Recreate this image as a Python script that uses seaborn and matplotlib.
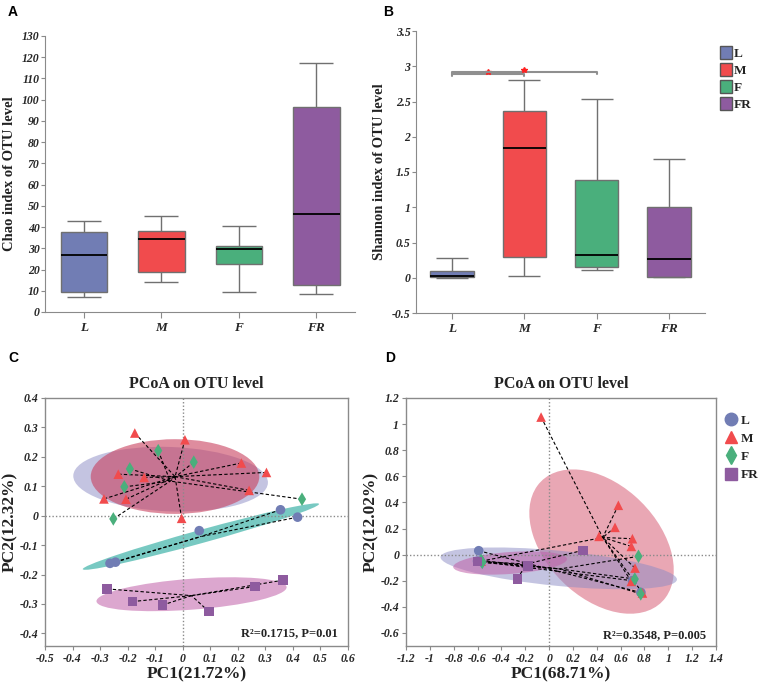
import numpy as np
import pandas as pd
import matplotlib
matplotlib.use('Agg')
import matplotlib.pyplot as plt
import seaborn as sns
from matplotlib.patches import Ellipse, Patch
from matplotlib.lines import Line2D
from matplotlib.ticker import MultipleLocator, FuncFormatter

# ---- data ----
groups = ['L', 'M', 'F', 'FR']
colors = ['#717db4', '#f14b4d', '#4aaf7c', '#8e5b9f']

# box panels: min, q1, median, q3, max per group
chao_L = [7, 9.5, 27, 37.5, 43]
chao_M = [14, 19, 34.5, 38, 45]
chao_F = [9.5, 22.5, 29.5, 31, 40.5]
chao_FR = [8.5, 12.5, 46, 96.5, 117.5]

shannon_L = [0.0, 0.01, 0.02, 0.1, 0.28]
shannon_M = [0.03, 0.3, 1.84, 2.36, 2.8]
shannon_F = [0.11, 0.15, 0.32, 1.38, 2.54]
shannon_FR = [0.01, 0.01, 0.26, 1.0, 1.69]

sig_pairs = [(0, 1), (0, 2)]
sig_heights = [2.895, 2.925]

# PCoA C (points per group: L 5, M 10, F 6, FR 6)
c_pc1 = [-0.264, -0.244, 0.060, 0.355, 0.417,
         -0.174, 0.008, 0.213, 0.304, 0.241, -0.234, -0.140, -0.286, -0.206, -0.004,
         -0.089, -0.192, 0.040, -0.212, 0.433, -0.252,
         -0.274, -0.183, -0.074, 0.095, 0.262, 0.365]
c_pc2 = [-0.162, -0.158, -0.051, 0.020, -0.005,
         0.281, 0.258, 0.179, 0.147, 0.086, 0.141, 0.130, 0.057, 0.056, -0.009,
         0.221, 0.159, 0.182, 0.098, 0.056, -0.011,
         -0.249, -0.292, -0.304, -0.326, -0.241, -0.219]
c_group = ['L'] * 5 + ['M'] * 10 + ['F'] * 6 + ['FR'] * 6

# PCoA D (points per group: L 4, M 10, F 6, FR 4)
d_pc1 = [-0.59, -0.60, 0.70, 0.77,
         -0.067, 0.581, 0.553, 0.419, 0.699, 0.690, 0.721, 0.690, 0.783, -0.57,
         0.750, 0.719, 0.769, -0.563, -0.56, -0.57,
         0.284, -0.176, -0.266, -0.600]
d_pc2 = [0.03, -0.05, -0.20, -0.29,
         1.054, 0.378, 0.209, 0.140, 0.122, 0.063, -0.103, -0.205, -0.294, -0.05,
         -0.013, -0.187, -0.301, -0.052, -0.06, -0.045,
         0.033, -0.085, -0.185, -0.052]
d_group = ['L'] * 4 + ['M'] * 10 + ['F'] * 6 + ['FR'] * 4

# confidence ellipses (center x, center y, width, height, angle)
c_ell_x = [-0.044, -0.028, 0.066, 0.032]
c_ell_y = [0.124, 0.133, -0.071, -0.267]
c_ell_w = [0.707, 0.612, 0.886, 0.692]
c_ell_h = [0.219, 0.254, 0.045, 0.105]
c_ell_ang = [-2, 0, 14.5, 4]

d_ell_x = [0.44, 0.081, -0.327]
d_ell_y = [0.10, -0.105, -0.064]
d_ell_w = [1.375, 1.99, 0.956]
d_ell_h = [0.894, 0.27, 0.168]
d_ell_ang = [-38.5, -5, 3.7]

c_stat = 'R²=0.1715, P=0.01'
d_stat = 'R²=0.3548, P=0.005'

# ---- style ----
sns.set_style('ticks')
plt.rcParams['font.family'] = ['Liberation Serif', 'DejaVu Serif']
plt.rcParams['font.weight'] = 'bold'
plt.rcParams['axes.labelweight'] = 'bold'
plt.rcParams['axes.titleweight'] = 'bold'
plt.rcParams['text.color'] = '#222222'
plt.rcParams['axes.labelcolor'] = '#222222'

W, H = 763, 685
fig = plt.figure(figsize=(W / 100, H / 100), dpi=100)


def add_ax(l, t, r, b):
    return fig.add_axes([l / W, 1 - b / H, (r - l) / W, (b - t) / H])


def fmt(v, pos):
    v = round(v, 6)
    return '0' if v == 0 else '%g' % v


markers = {'L': 'o', 'M': '^', 'F': 'd', 'FR': 's'}
spine_col = '#8a8a8a'
line_col = '#707070'


def box_panel(ax, values, ylabel, ylim, step, tick_fs):
    df = pd.DataFrame({'group': np.repeat(groups, 5), 'value': values})
    sns.boxplot(data=df, x='group', y='value', hue='group', order=groups,
                hue_order=groups, palette=colors, saturation=1, width=0.6,
                whis=(0, 100), linecolor=line_col, linewidth=1, legend=False,
                ax=ax, medianprops=dict(color='black', linewidth=1.3),
                capprops=dict(linewidth=0))
    # wider whisker caps, as in the original
    ext = df.groupby('group')['value'].agg(['min', 'max']).loc[groups]
    pos = np.arange(len(groups))
    for col in ['min', 'max']:
        ax.hlines(ext[col].values, pos - 0.22, pos + 0.22, color=line_col, lw=1)
    ax.set_xlim(-0.5, 3.5)
    ax.set_ylim(*ylim)
    ax.yaxis.set_major_locator(MultipleLocator(step))
    ax.yaxis.set_major_formatter(FuncFormatter(fmt))
    ax.set_xlabel('')
    ax.set_ylabel(ylabel, fontsize=10.5)
    sns.despine(ax=ax)
    for s in ['left', 'bottom']:
        ax.spines[s].set_color(spine_col)
    ax.tick_params(axis='y', length=3, color=spine_col, labelsize=tick_fs, pad=1)
    ax.tick_params(axis='x', length=4, color=spine_col, labelsize=9.5)
    plt.setp(ax.get_yticklabels(), style='italic', weight='bold')
    plt.setp(ax.get_xticklabels(), style='italic', weight='bold')


# ---- A ----
axA = add_ax(45, 36, 355, 312)
box_panel(axA, chao_L + chao_M + chao_F + chao_FR, 'Chao index of OTU level',
          (0, 130), 10, 8.5)

# ---- B ----
axB = add_ax(416, 31, 705, 313)
box_panel(axB, shannon_L + shannon_M + shannon_F + shannon_FR,
          'Shannon index of OTU level', (-0.5, 3.5), 0.5, 8.5)
for (x0, x1), h in zip(sig_pairs, sig_heights):
    axB.plot([x0, x0, x1, x1], [h - 0.04, h, h, h - 0.04], color='#8f8f8f', lw=1.5)
    axB.plot((x0 + x1) / 2, h + 0.025, marker='*', color='#ff2020', ms=4)
axB.legend(handles=[Patch(facecolor=c, edgecolor='#555555', label=g)
                    for g, c in zip(groups, colors)],
           loc='upper left', bbox_to_anchor=(1.03, 0.97), frameon=False,
           handlelength=0.9, handleheight=1.1, handletextpad=0.1,
           labelspacing=0.25, borderpad=0, prop=dict(size=9.5, weight='bold'))


# ---- PCoA panels ----
def pcoa_panel(ax, pc1, pc2, grp, ells, ell_cols, ell_alphas, xlim, ylim,
               xstep, ystep, xlabel, ylabel, stat, stat_xy):
    df = pd.DataFrame({'PC1': pc1, 'PC2': pc2, 'group': grp})
    for cx, cy, w, h, a, col, al in zip(*ells, ell_cols, ell_alphas):
        ax.add_patch(Ellipse((cx, cy), w, h, angle=a, facecolor=col, alpha=al,
                             edgecolor='none', zorder=1))
    ax.axhline(0, color='#8a8a8a', ls=(0, (1, 1.5)), lw=1, zorder=1.5)
    ax.axvline(0, color='#8a8a8a', ls=(0, (1, 1.5)), lw=1, zorder=1.5)
    cent = df.groupby('group')[['PC1', 'PC2']].mean()
    for _, r in df.iterrows():
        ax.plot([r.PC1, cent.loc[r.group, 'PC1']], [r.PC2, cent.loc[r.group, 'PC2']],
                color='black', ls=(0, (3, 2)), lw=0.8, zorder=2)
    sns.scatterplot(data=df, x='PC1', y='PC2', hue='group', style='group',
                    hue_order=groups, style_order=groups, palette=colors,
                    markers=markers, s=48, edgecolor='none', legend=False,
                    ax=ax, zorder=3)
    ax.set_xlim(*xlim)
    ax.set_ylim(*ylim)
    ax.xaxis.set_major_locator(MultipleLocator(xstep))
    ax.yaxis.set_major_locator(MultipleLocator(ystep))
    ax.xaxis.set_major_formatter(FuncFormatter(fmt))
    ax.yaxis.set_major_formatter(FuncFormatter(fmt))
    ax.set_xlabel(xlabel, fontsize=12.5, labelpad=1)
    ax.set_ylabel(ylabel, fontsize=12.5, labelpad=1)
    ax.set_title('PCoA on OTU level', fontsize=11.5, pad=7)
    for s in ax.spines.values():
        s.set_color(spine_col)
        s.set_linewidth(1)
    ax.tick_params(length=3, color=spine_col, labelsize=8.5, pad=2)
    plt.setp(ax.get_yticklabels(), style='italic', weight='bold')
    plt.setp(ax.get_xticklabels(), style='italic', weight='bold')
    ax.text(stat_xy[0], stat_xy[1], stat, ha='right', va='center', fontsize=9,
            fontweight='bold')


axC = add_ax(45, 398, 348, 646)
pcoa_panel(axC, c_pc1, c_pc2, c_group,
           (c_ell_x, c_ell_y, c_ell_w, c_ell_h, c_ell_ang),
           ['#8a8ac4', '#c8405e', '#3fb3a8', '#c060a8'], [0.5, 0.6, 0.7, 0.55],
           (-0.5, 0.6), (-0.443, 0.4), 0.1, 0.1,
           'PC1(21.72%)', 'PC2(12.32%)', c_stat, (0.565, -0.4))

axD = add_ax(406, 398, 716, 646)
pcoa_panel(axD, d_pc1, d_pc2, d_group,
           (d_ell_x, d_ell_y, d_ell_w, d_ell_h, d_ell_ang),
           ['#d4506a', '#8a8ac4', '#c060a8'], [0.5, 0.5, 0.55],
           (-1.2, 1.4), (-0.7, 1.2), 0.2, 0.2,
           'PC1(68.71%)', 'PC2(12.02%)', d_stat, (1.32, -0.616))
axD.legend(handles=[Line2D([], [], marker=markers[g], color=c, ls='', ms=9, label=g)
                    for g, c in zip(groups, colors)],
           loc='upper left', bbox_to_anchor=(1.005, 0.96), frameon=False,
           handlelength=1.0, handletextpad=0.25, labelspacing=0.45, borderpad=0,
           prop=dict(size=9.5, weight='bold'))

# panel letters
for lab, x, y in [('A', 8, 12), ('B', 383, 12), ('C', 8, 358), ('D', 385, 358)]:
    fig.text(x / W, 1 - y / H, lab, family='Liberation Sans', weight='bold',
             fontsize=10, ha='left', va='center', color='black')

fig.savefig('out.png', dpi=100)
